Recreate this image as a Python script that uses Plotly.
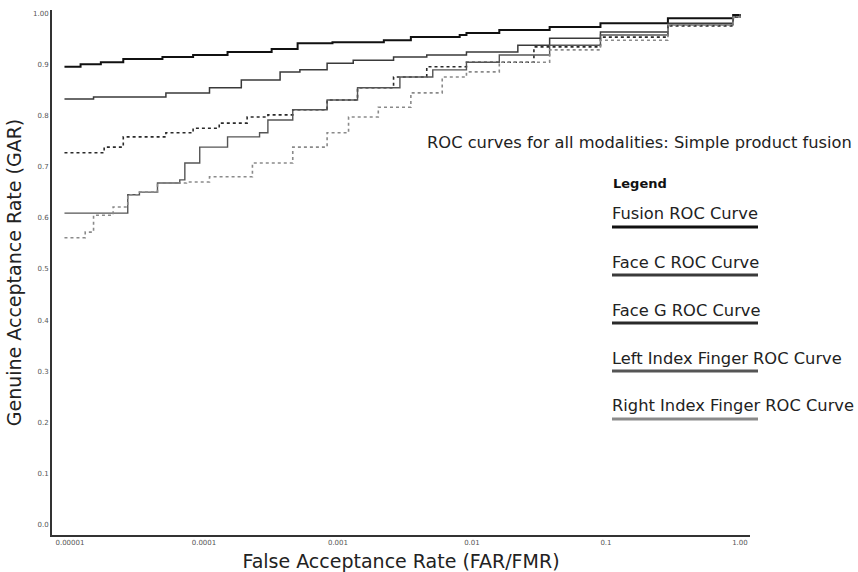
import plotly.graph_objects as go

# ---- data ----
far_ticks = [1e-5, 1e-4, 1e-3, 1e-2, 1e-1, 1]
far_tick_labels = ["0.00001", "0.0001", "0.001", "0.01", "0.1", "1.00"]
gar_ticks = [0.0, 0.1, 0.2, 0.3, 0.4, 0.5, 0.6, 0.7, 0.8, 0.9, 1.0]
gar_tick_labels = ["0.0", "0.1", "0.2", "0.3", "0.4", "0.5", "0.6", "0.7", "0.8", "0.9", "1.00"]

series_names = ["Fusion ROC Curve", "Face C ROC Curve", "Face G ROC Curve",
                "Left Index Finger ROC Curve", "Right Index Finger ROC Curve"]

fusion_far = [9.1e-6, 1.2e-5, 1.7e-5, 2.5e-5, 4.9e-5, 8.3e-5, 1.5e-4, 3.2e-4, 5.0e-4, 9.1e-4,
              2.2e-3, 3.5e-3, 8.1e-3, 9.1e-3, 1.6e-2, 3.8e-2, 9.1e-2, 0.29, 0.89, 1.0]
fusion_gar = [0.895, 0.900, 0.904, 0.910, 0.914, 0.918, 0.924, 0.930, 0.941, 0.943,
              0.947, 0.953, 0.957, 0.961, 0.967, 0.973, 0.980, 0.990, 0.996, 0.998]

facec_far = [9.1e-6, 1.5e-5, 2.7e-5, 5.2e-5, 1.1e-4, 1.9e-4, 3.7e-4, 5.2e-4, 8.3e-4, 1.3e-3,
             2.6e-3, 4.6e-3, 9.1e-3, 2.2e-2, 3.8e-2, 9.1e-2, 0.29, 0.89, 1.0]
facec_gar = [0.832, 0.836, 0.836, 0.844, 0.854, 0.869, 0.885, 0.889, 0.902, 0.908,
             0.914, 0.918, 0.924, 0.937, 0.951, 0.963, 0.980, 0.992, 0.998]

faceg_far = [9.1e-6, 1.8e-5, 2.5e-5, 5.2e-5, 8.3e-5, 1.3e-4, 2.1e-4, 3.0e-4, 4.6e-4, 8.3e-4,
             1.4e-3, 2.6e-3, 4.6e-3, 9.1e-3, 2.9e-2, 9.1e-2, 0.29, 0.89, 1.0]
faceg_gar = [0.727, 0.738, 0.758, 0.766, 0.775, 0.785, 0.797, 0.801, 0.811, 0.830,
             0.854, 0.875, 0.895, 0.904, 0.934, 0.953, 0.975, 0.992, 0.998]

left_far = [9.1e-6, 1.5e-5, 2.7e-5, 3.3e-5, 4.5e-5, 6.6e-5, 7.2e-5, 9.3e-5, 1.5e-4, 2.6e-4,
            3.0e-4, 4.6e-4, 8.3e-4, 1.4e-3, 2.9e-3, 5.1e-3, 9.1e-3, 1.6e-2, 3.8e-2, 9.1e-2,
            0.29, 0.89, 1.0]
left_gar = [0.609, 0.609, 0.645, 0.650, 0.668, 0.674, 0.707, 0.738, 0.758, 0.766,
            0.791, 0.811, 0.830, 0.854, 0.875, 0.889, 0.904, 0.918, 0.937, 0.957,
            0.977, 0.992, 0.998]

right_far = [9.1e-6, 1.3e-5, 1.5e-5, 2.1e-5, 2.7e-5, 3.3e-5, 4.5e-5, 7.4e-5, 1.1e-4, 2.3e-4,
             4.6e-4, 8.3e-4, 1.2e-3, 2.0e-3, 3.5e-3, 6.0e-3, 9.1e-3, 1.6e-2, 3.8e-2, 9.1e-2,
             0.29, 0.89, 1.0]
right_gar = [0.561, 0.572, 0.605, 0.621, 0.645, 0.650, 0.668, 0.670, 0.680, 0.707,
             0.738, 0.766, 0.797, 0.816, 0.844, 0.875, 0.885, 0.904, 0.928, 0.947,
             0.977, 0.992, 0.998]

# ---- styles ----
colors = ["#111111", "#3a3a3a", "#2a2a2a", "#555555", "#8a8a8a"]
widths = [2.0, 1.5, 1.6, 1.4, 1.6]
dashes = ["solid", "solid", "dot", "solid", "dot"]

all_far = [fusion_far, facec_far, faceg_far, left_far, right_far]
all_gar = [fusion_gar, facec_gar, faceg_gar, left_gar, right_gar]

FONT = "DejaVu Sans"

fig = go.Figure()
for name, xs, ys, c, w, d in zip(series_names, all_far, all_gar, colors, widths, dashes):
    fig.add_trace(go.Scatter(x=xs, y=ys, mode="lines", name=name, line_shape="hv",
                             line=dict(color=c, width=w, dash=d), showlegend=False))

# plot area in pixels: x 52..750, y 10..535
L, R, T, B = 52, 750, 10, 535
W, H = 858, 572

def px(x):
    return (x - L) / (R - L)

def py(y):
    return (B - y) / (B - T)

annotations = [
    dict(text="ROC curves for all modalities: Simple product fusion", x=px(639), y=py(143),
         xref="paper", yref="paper", showarrow=False, xanchor="center", yanchor="middle",
         font=dict(family=FONT, size=16.3, color="#222")),
    dict(text="<b>Legend</b>", x=px(611), y=py(183), xref="paper", yref="paper",
         showarrow=False, xanchor="left", yanchor="middle",
         font=dict(family=FONT, size=13, color="#111")),
]
legend_text_y = [213, 262, 310, 358, 405]
legend_line_y = [227, 275, 323, 371, 419]
shapes = []
for name, ty, ly, c, d in zip(series_names, legend_text_y, legend_line_y, colors, dashes):
    annotations.append(dict(text=name, x=px(610), y=py(ty), xref="paper", yref="paper",
                            showarrow=False, xanchor="left", yanchor="middle",
                            font=dict(family=FONT, size=16.3, color="#222")))
    shapes.append(dict(type="line", xref="paper", yref="paper", x0=px(612), x1=px(758),
                       y0=py(ly), y1=py(ly), line=dict(color=c, width=3)))

fig.update_layout(
    width=W, height=H,
    margin=dict(l=L, r=W - R, t=T, b=H - B),
    paper_bgcolor="white", plot_bgcolor="white",
    annotations=annotations, shapes=shapes,
    xaxis=dict(type="log", range=[-5.134, 0.075], tickvals=far_ticks, ticktext=far_tick_labels,
               showgrid=False, zeroline=False, showline=True, linecolor="#333", linewidth=2,
               ticks="", automargin=False, tickfont=dict(family=FONT, size=7, color="#555"),
               title=dict(text="False Acceptance Rate (FAR/FMR)", standoff=8,
                          font=dict(family=FONT, size=19, color="#222"))),
    yaxis=dict(range=[-0.02, 1.006], tickvals=gar_ticks, ticktext=gar_tick_labels,
               showgrid=False, zeroline=False, showline=True, linecolor="#333", linewidth=2,
               ticks="", automargin=False, tickfont=dict(family=FONT, size=7, color="#555"),
               title=dict(text="Genuine Acceptance Rate (GAR)", standoff=6,
                          font=dict(family=FONT, size=19, color="#222"))),
)

fig.write_html("out.html")
